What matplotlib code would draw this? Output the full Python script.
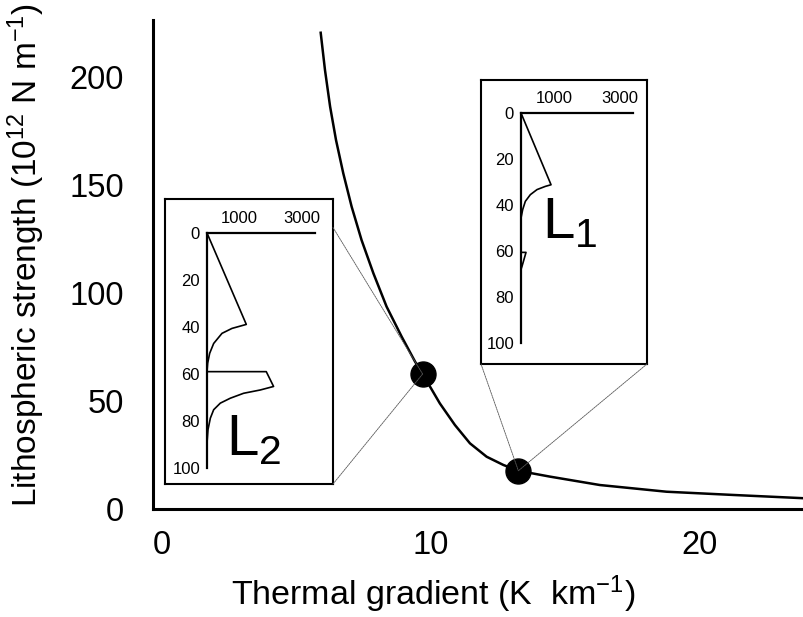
import matplotlib
matplotlib.use("Agg")
import matplotlib.pyplot as plt
from matplotlib.patches import ConnectionPatch

plt.rcParams['font.family'] = ['Liberation Sans', 'DejaVu Sans']
plt.rcParams['mathtext.fontset'] = 'custom'
plt.rcParams['mathtext.rm'] = 'Liberation Sans'
plt.rcParams['mathtext.it'] = 'Liberation Sans'

# main curve: strength vs thermal gradient
grad = [5.90, 6.06, 6.25, 6.47, 6.74, 7.05, 7.42, 7.86, 8.35, 8.91, 9.41, 9.69,
        10.33, 10.89, 11.45, 12.07, 12.69, 13.25, 14.42, 16.28, 18.76, 21.24, 23.84]
strength = [220.5, 203.2, 186.3, 170.8, 155.4, 140.0, 124.5, 109.1, 93.7, 79.8, 68.2, 62.5,
            48.9, 38.9, 30.4, 24.2, 20.4, 17.7, 15.0, 11.1, 8.0, 6.5, 5.0]

# the two marked lithospheres
mark_grad = [9.69, 13.25]
mark_strength = [62.5, 17.7]

# strength envelopes in the insets (stress, depth in km)
l1_stress = [0, 912, 740, 486, 284, 132, 51, 0, 0, 152, 30, 0, 0]
l1_depth = [0, 31.2, 31.9, 33.3, 35.5, 38.4, 42.0, 45.7, 60.6, 60.6, 66.7, 68, 100]
l2_stress = [0, 1237, 786, 472, 210, 84, 21, 0, 1866, 2096, 1677, 1153, 734, 419, 210, 105, 31, 0, 0]
l2_depth = [0, 38.9, 40.6, 42.7, 47.0, 51.2, 55.4, 59.0, 59.0, 65.3, 66.8, 68.2, 70.3, 72.4, 75.2, 78.8, 83.7, 89.4, 100]

xticks = [0, 10, 20]
yticks = [0, 50, 100, 150, 200]
depth_ticks = [0, 20, 40, 60, 80, 100]
stress_ticks = [1000, 3000]

W, H = 804, 617
fig = plt.figure(figsize=(W / 100, H / 100), dpi=100)


def px_rect(l, t, r, b):
    return [l / W, (H - b) / H, (r - l) / W, (b - t) / H]


ax = fig.add_axes(px_rect(153, 20, 804, 509))
ax.plot(grad, strength, color='black', lw=1.8, zorder=2, solid_joinstyle='round')
ax.plot(mark_grad, mark_strength, 'o', color='black', ms=18, zorder=3)
ax.set_xlim(-0.335, 23.87)
ax.set_ylim(0, 226.4)
ax.set_xticks(xticks)
ax.set_yticks(yticks)
ax.tick_params(length=0, labelsize=23.5)
ax.tick_params(axis='y', pad=21)
ax.tick_params(axis='x', pad=15)
for s in ['top', 'right']:
    ax.spines[s].set_visible(False)
for s in ['left', 'bottom']:
    ax.spines[s].set_linewidth(2.2)
ax.set_xlabel('Thermal gradient (K  km$^{-1}$)', fontsize=24.5)
ax.xaxis.label.set_va('baseline')
ax.xaxis.set_label_coords(0.43, -0.196)
ax.set_ylabel('Lithospheric strength (10$^{12}$ N m$^{-1}$)', fontsize=24)
ax.yaxis.label.set_va('baseline')
ax.yaxis.set_label_coords(-0.178, 0.519)


def inset(box, inner, stress, depth, name, lx, ly):
    bx = fig.add_axes(px_rect(*box))
    bx.set_xticks([])
    bx.set_yticks([])
    for s in bx.spines.values():
        s.set_linewidth(1.5)
    ix = fig.add_axes(px_rect(*inner))
    ix.patch.set_alpha(0)
    ix.plot(stress, depth, color='black', lw=1.2, clip_on=False)
    ix.set_xlim(0, 3400)
    ix.set_ylim(100, 0)
    ix.set_xticks(stress_ticks)
    ix.set_yticks(depth_ticks)
    ix.xaxis.tick_top()
    ix.tick_params(length=0, labelsize=12, pad=5)
    for s in ['bottom', 'right']:
        ix.spines[s].set_visible(False)
    for s in ['top', 'left']:
        ix.spines[s].set_linewidth(1.6)
    ix.text(lx, ly, 'L$_{%s}$' % name, transform=ix.transAxes, fontsize=42,
            ha='left', va='baseline')
    return bx


box2 = inset((165, 199, 333, 484), (207, 233, 315, 468), l2_stress, l2_depth, '2', 0.18, 0.055)
box1 = inset((481, 80, 647, 364), (521, 113, 633, 343), l1_stress, l1_depth, '1', 0.19, 0.457)

links = [(box2, (1, 0.9), 0), (box2, (1, 0), 0), (box1, (0, 0), 1), (box1, (1, 0), 1)]
for bx, corner, i in links:
    con = ConnectionPatch(xyA=corner, coordsA=bx.transAxes,
                          xyB=(mark_grad[i], mark_strength[i]), coordsB=ax.transData,
                          color='0.35', lw=0.6, ls=(0, (2, 1)))
    fig.add_artist(con)

fig.savefig('out.png', dpi=100)
